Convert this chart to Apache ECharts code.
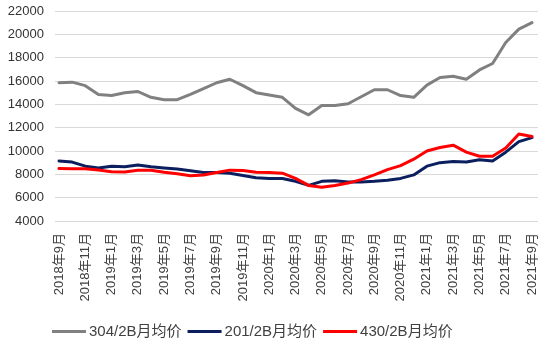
<!DOCTYPE html>
<html>
<head>
<meta charset="utf-8">
<script src="https://cdn.jsdelivr.net/npm/echarts@6/dist/echarts.min.js"></script>
<style>
  html, body { margin: 0; padding: 0; background: #ffffff; }
  #chart { width: 550px; height: 345px; }
</style>
</head>
<body>
<div id="chart"></div>
<script>
// Monthly categories, Sep 2018 – Sep 2021
const months = [
  '2018年9月','2018年10月','2018年11月','2018年12月',
  '2019年1月','2019年2月','2019年3月','2019年4月','2019年5月','2019年6月',
  '2019年7月','2019年8月','2019年9月','2019年10月','2019年11月','2019年12月',
  '2020年1月','2020年2月','2020年3月','2020年4月','2020年5月','2020年6月',
  '2020年7月','2020年8月','2020年9月','2020年10月','2020年11月','2020年12月',
  '2021年1月','2021年2月','2021年3月','2021年4月','2021年5月','2021年6月',
  '2021年7月','2021年8月','2021年9月'
];

// Monthly average prices (元/吨)
const price304 = [15850, 15900, 15600, 14850, 14750, 15000, 15100, 14600, 14400, 14400,
                  14850, 15350, 15850, 16150, 15600, 15000, 14800, 14600, 13650, 13100,
                  13900, 13900, 14050, 14650, 15250, 15250, 14750, 14600, 15650, 16300,
                  16400, 16150, 16950, 17500, 19300, 20450, 21000];
const price201 = [9150, 9050, 8700, 8550, 8700, 8650, 8800, 8650, 8550, 8450,
                  8300, 8150, 8150, 8100, 7900, 7700, 7650, 7650, 7400, 7050,
                  7400, 7450, 7350, 7350, 7400, 7500, 7650, 7950, 8700, 9000,
                  9100, 9050, 9250, 9150, 9900, 10800, 11150];
const price430 = [8500, 8480, 8480, 8370, 8220, 8200, 8350, 8350, 8170, 8050,
                  7870, 7950, 8150, 8360, 8320, 8170, 8150, 8100, 7650, 7050,
                  6900, 7050, 7250, 7550, 7950, 8400, 8750, 9300, 10000, 10300,
                  10500, 9900, 9550, 9550, 10250, 11450, 11250];

const seriesNames = ['304/2B月均价', '201/2B月均价', '430/2B月均价'];
const seriesColors = ['#808080', '#0b1f5e', '#ff0000'];

const yMin = 4000, yMax = 22000, yStep = 2000;
const fontFamily = '"Liberation Sans", "Noto Sans CJK SC", sans-serif';

const chart = echarts.init(document.getElementById('chart'), null, { renderer: 'canvas' });

const lineSeries = [price304, price201, price430].map((data, k) => ({
  name: seriesNames[k],
  type: 'line',
  xAxisIndex: 1,
  yAxisIndex: 1,
  data: data,
  symbol: 'none',
  smooth: false,
  lineStyle: { width: 3, color: seriesColors[k], join: 'round', cap: 'round' },
  itemStyle: { color: seriesColors[k] },
  z: 3 + k
}));

chart.setOption({
  animation: false,
  backgroundColor: '#ffffff',
  textStyle: { fontFamily: fontFamily },
  grid: [
    // background grid carrying the value labels and horizontal gridlines
    { left: 55, right: 12, top: 11, bottom: 124 },
    // plotting grid for the three price lines
    { left: 59, right: 18, top: 11, bottom: 124 }
  ],
  xAxis: [
    { gridIndex: 0, type: 'value', min: 0, max: 1, show: false },
    {
      gridIndex: 1,
      type: 'category',
      data: months,
      boundaryGap: false,
      axisLine: { show: false },
      axisTick: { show: false },
      axisLabel: {
        interval: 1,
        rotate: 90,
        margin: 12,
        fontSize: 13,
        color: '#404040',
        fontFamily: fontFamily
      },
      splitLine: { show: false }
    }
  ],
  yAxis: [
    {
      gridIndex: 0,
      type: 'value',
      min: yMin,
      max: yMax,
      interval: yStep,
      axisLine: { show: false },
      axisTick: { show: false },
      axisLabel: {
        fontSize: 13,
        color: '#333333',
        margin: 11,
        fontFamily: fontFamily,
        formatter: (v) => String(v)
      },
      splitLine: { show: true, lineStyle: { color: '#d9d9d9', width: 1 } }
    },
    {
      gridIndex: 1,
      type: 'value',
      min: yMin,
      max: yMax,
      interval: yStep,
      show: false
    }
  ],
  legend: {
    data: seriesNames,
    left: 47,
    top: 319,
    icon: 'rect',
    itemWidth: 34,
    itemHeight: 3,
    itemGap: 6,
    textStyle: { fontSize: 15, color: '#404040', fontFamily: fontFamily, padding: [0, 0, 0, -2] }
  },
  series: lineSeries
});
</script>
</body>
</html>
